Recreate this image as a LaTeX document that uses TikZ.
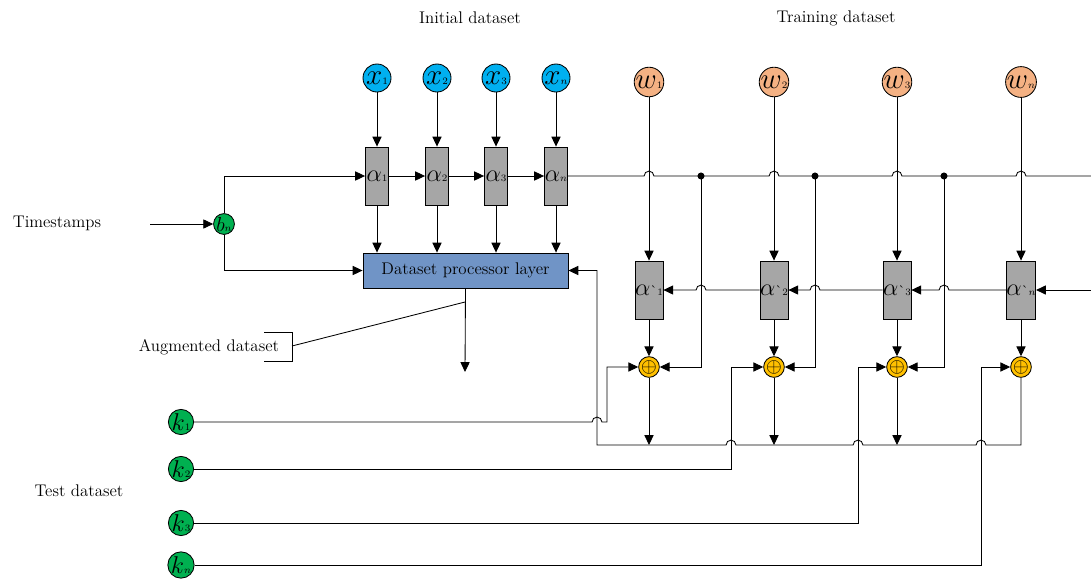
\documentclass[tikz,border=0pt]{standalone}
\usepackage{amsmath}
\usetikzlibrary{arrows.meta,calc}

\definecolor{xblue}{HTML}{00B0F0}
\definecolor{worange}{HTML}{F4B183}
\definecolor{kgreen}{HTML}{00B050}
\definecolor{boxgray}{HTML}{A6A6A6}
\definecolor{procblue}{HTML}{7094C6}
\definecolor{plusgold}{HTML}{FFC000}

% big letter with a small subscript
\newcommand{\vlab}[3][\huge]{{#1$#2$}{\scriptsize$#3$}}
\newcommand{\aplab}[1]{{\LARGE$\alpha$}{\normalsize\textasciigrave}{\scriptsize$#1$}}
% line hops over a crossing wire
\newcommand{\hopR}[2]{-- ([xshift=-3.5pt]#1,#2) arc[start angle=180,end angle=0,radius=3.5pt]}
\newcommand{\hopL}[2]{-- ([xshift=3.5pt]#1,#2) arc[start angle=0,end angle=180,radius=3.5pt]}

\tikzset{
  xin/.style={circle,draw,fill=xblue,minimum size=0.7cm,inner sep=0pt},
  win/.style={xin,fill=worange},
  kin/.style={circle,draw,fill=kgreen,minimum size=0.6cm,inner sep=0pt},
  cell/.style={rectangle,draw,fill=boxgray,minimum width=0.575cm,minimum height=1.45cm,inner sep=0pt},
  procbox/.style={rectangle,draw,fill=procblue,minimum width=5.125cm,minimum height=0.875cm},
  adder/.style={circle,draw,fill=plusgold,minimum size=0.5cm,inner sep=0pt},
  hub/.style={circle,fill,inner sep=0pt,minimum size=5pt}
}

\begin{document}
\begin{tikzpicture}
    [x=0.025cm,y=0.025cm,line width=0.6pt,font=\large,>={Triangle[length=7pt,width=6.5pt]}]
    \useasboundingbox (0,0) rectangle (1091,-580);

    % texts
    \node (tInit) at (470,-18) {Initial dataset};
    \node (tTrain) at (836,-18) {Training dataset};
    \node (tTime) at (57,-223) {Timestamps};
    \node (tAug) at (209,-347) {Augmented dataset};
    \node (tTest) at (79,-491) {Test dataset};

    \coordinate (tin) at (150,-224);
    \coordinate (eR) at (1091,-176);
    \coordinate (eR2) at (1091,-290);
    \coordinate (bus) at (597,-445);

    % initial dataset
    \foreach \i/\xx/\s in {1/377/1,2/437/2,3/496/3,4/556/n}{
      \node[xin] (x\i) at (\xx,-78) {\vlab{x}{\s}};
      \node[cell] (a\i) at (\xx,-176) {\vlab[\LARGE]{\alpha}{\s}};
      \draw[->] (x\i) -- (a\i);
    }
    \node[procbox] (proc) at (465.5,-270.5) {Dataset processor layer};
    \foreach \i in {1,...,4}
      \draw[->] (a\i) -- (a\i |- proc.north);
    \foreach \i/\j in {1/2,2/3,3/4}
      \draw[->] (a\i) -- (a\j);

    \node[kin,minimum size=0.5cm] (bn) at (224,-224) {\vlab[\Large]{b}{n}};
    \draw[->] (tin) -- (bn);
    \draw[->] (bn) |- (a1.west);
    \draw[->] (bn) |- (proc.west);
    \draw (a4.east) \hopR{649}{-176} \hopR{774}{-176} \hopR{897}{-176} \hopR{1021}{-176} -- (eR);

    % training dataset
    \foreach \i/\xx/\s in {1/649/1,2/774/2,3/897/3,4/1021/n}{
      \node[win] (w\i) at (\xx,-82) {\vlab{w}{\s}};
      \node[cell] (ap\i) at (\xx,-290) {\aplab{\s}};
      \node[adder] (p\i) at (\xx,-367) {\Large$\oplus$};
      \draw[->] (w\i) -- (ap\i);
      \draw[->] (ap\i) -- (p\i);
    }
    \foreach \i/\xx in {1/701,2/815,3/944}{
      \node[hub] (d\i) at (\xx,-176) {};
      \draw[->] (d\i.center) |- (p\i.east);
    }
    \draw[->] (eR2) -- (ap4.east);
    \draw[->] (ap4.west) \hopL{944}{-290} -- (ap3.east);
    \draw[->] (ap3.west) \hopL{815}{-290} -- (ap2.east);
    \draw[->] (ap2.west) \hopL{701}{-290} -- (ap1.east);

    % feedback bus
    \foreach \i in {1,2,3}
      \draw[->] (p\i) -- (p\i |- bus);
    \draw[->] (p4) -- (p4 |- bus) \hopL{981}{-445} \hopL{858}{-445} \hopL{731}{-445} -- (bus) |- (proc.east);

    % augmented dataset
    \coordinate (augEnd) at (465,-372);
    \coordinate (augTap) at (465,-302);
    \draw[->] (proc.south) -- (augEnd);
    \draw (augTap) -- (292,-346);
    \draw (264,-332) -- (292,-332) -- (292,-361) -- (264,-361);

    % test dataset
    \foreach \i/\yy/\s in {1/-422/1,2/-469/2,3/-523/3,4/-565/n}
      \node[kin] (k\i) at (181,\yy) {\vlab[\LARGE]{k}{\s}};
    \draw[->] (k1) \hopR{597}{-422} -- (607,-422) |- (p1.west);
    \draw[->] (k2) -- (731,-469) |- (p2.west);
    \draw[->] (k3) -- (858,-523) |- (p3.west);
    \draw[->] (k4) -- (981,-565) |- (p4.west);
\end{tikzpicture}
\end{document}
